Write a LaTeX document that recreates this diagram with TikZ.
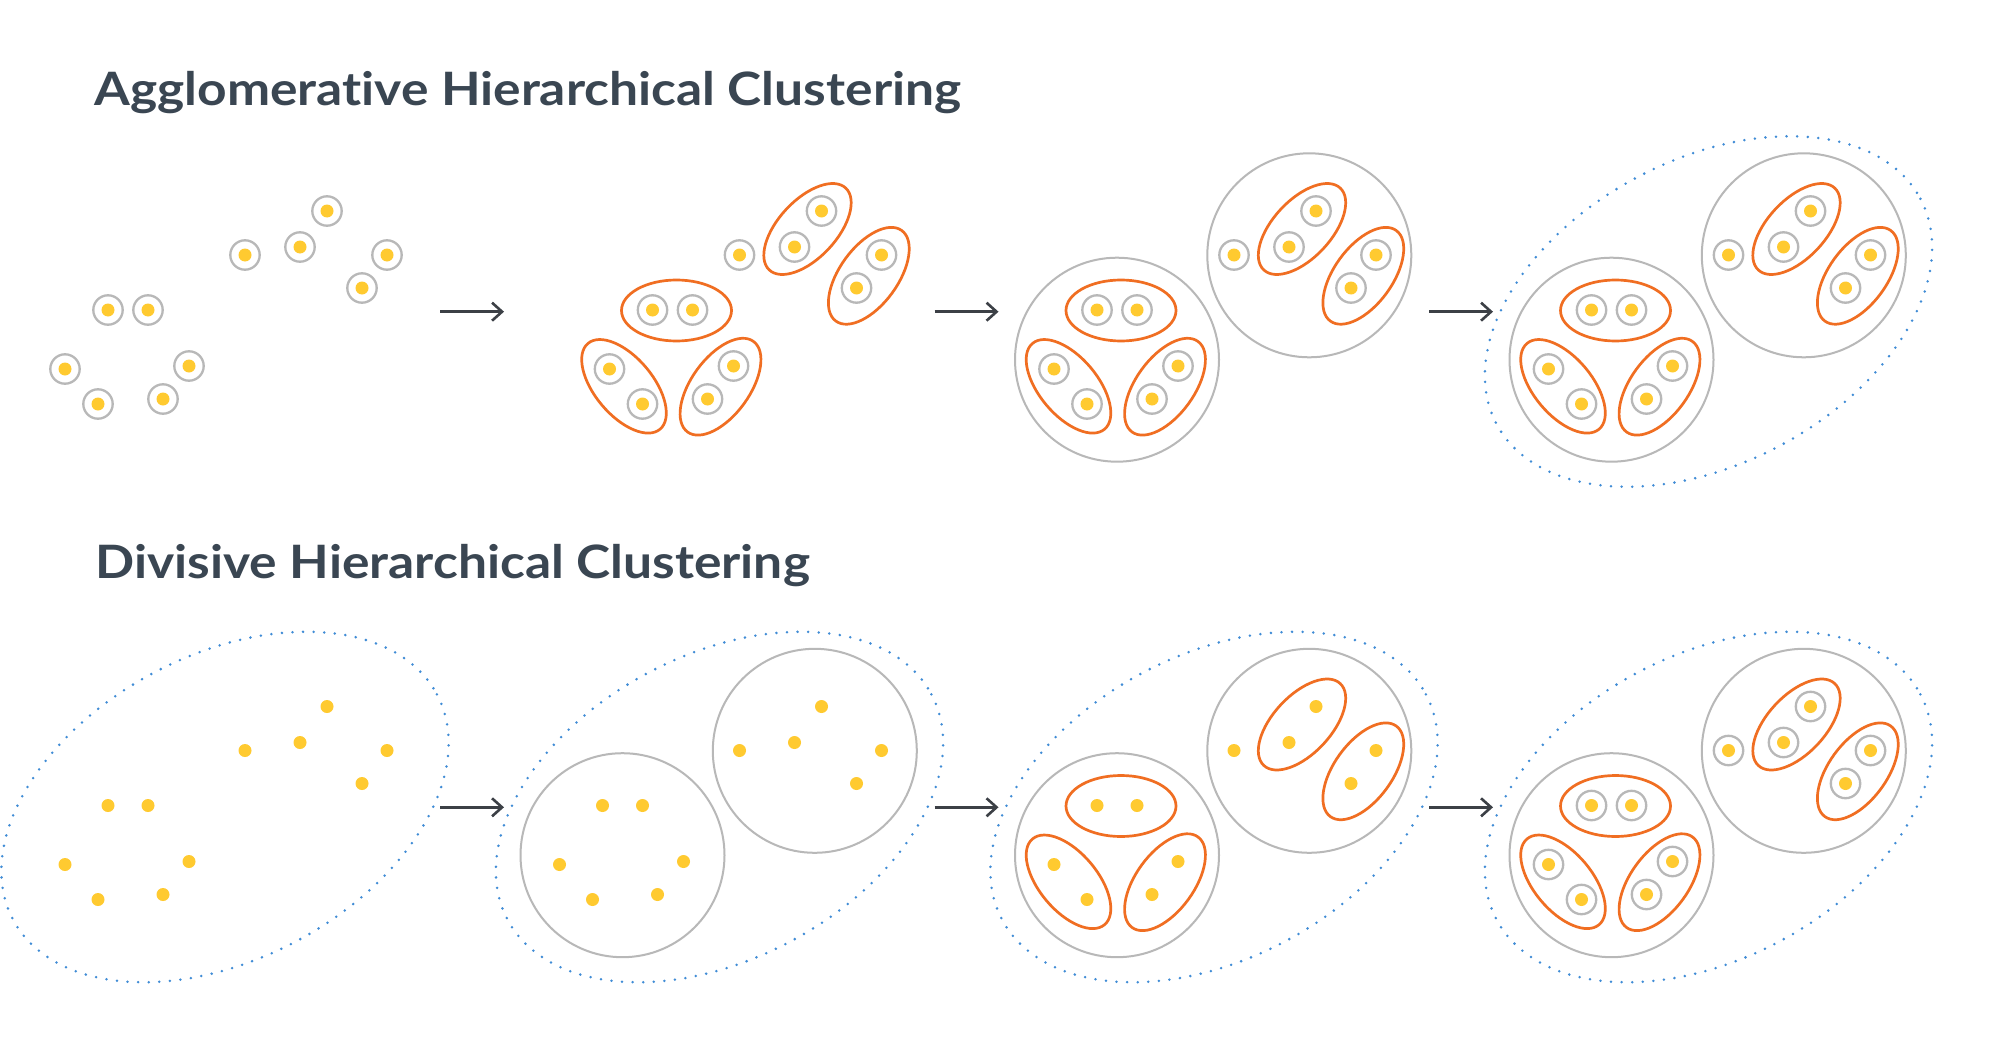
\documentclass[tikz,border=0pt]{standalone}
\usepackage{fontspec}
\setmainfont{Lato}
\newfontfamily\headfont{Lato}[FakeStretch=1.12,Ligatures=NoCommon]
\usetikzlibrary{arrows.meta}
\definecolor{dotyellow}{RGB}{255,202,48}
\definecolor{ringgrey}{RGB}{184,184,184}
\definecolor{pairorange}{RGB}{240,110,34}
\definecolor{dotblue}{RGB}{64,140,214}
\definecolor{arrowgrey}{RGB}{60,64,70}
\definecolor{titleslate}{RGB}{58,70,82}

\tikzset{
  yellowdot/.style={fill=dotyellow},
  singlering/.style={draw=ringgrey,line width=1.15pt},
  pairring/.style={draw=pairorange,line width=1.35pt},
  groupring/.style={draw=ringgrey,line width=1pt},
  allring/.style={draw=dotblue,line width=1.4pt,line cap=round,dash pattern=on 0pt off 5.3pt},
  steparrow/.style={draw=arrowgrey,line width=1.3pt,-{Straight Barb[length=5pt,width=9pt]}},
  heading/.style={anchor=base west,inner sep=0pt,text=titleslate,font=\headfont\fontsize{23}{27}\selectfont\bfseries},
}

% point positions of one panel, in pixels
\newcommand{\toppoints}{327/211,300/247,245/255,387/255,362/288}
\newcommand{\botpoints}{108/310,148/310,65/369,189/366,98/404,163/399}

% #1 = list, #2 = 1 for a ring round every point
\newcommand{\drawpoints}[2]{%
  \foreach \px/\py in #1 {
    \fill[yellowdot] (\px,\py) circle[radius=6.5];
    \ifnum#2=1\relax \draw[singlering] (\px,\py) circle[radius=14.7];\fi
  }}
\newcommand{\toppairs}{%
  \draw[pairring,shift={(313,229)},rotate=47] (0,0) ellipse[x radius=56,y radius=29];
  \draw[pairring,shift={(374.3,275.8)},rotate=54] (0,0) ellipse[x radius=56,y radius=29];}
\newcommand{\botpairs}{%
  \draw[pairring] (132,310.5) ellipse[x radius=55,y radius=30.5];
  \draw[pairring,shift={(79.5,386.3)},rotate=-50] (0,0) ellipse[x radius=56,y radius=29];
  \draw[pairring,shift={(176,386.7)},rotate=54] (0,0) ellipse[x radius=56,y radius=29];}
\newcommand{\groupcircles}{%
  \draw[groupring] (128,359.7) circle[radius=102];
  \draw[groupring] (320.3,255.3) circle[radius=102];}
\newcommand{\outerring}{%
  \draw[allring,shift={(225,311.5)},rotate=28] (0,0) ellipse[x radius=240,y radius=152];}

\begin{document}
\begin{tikzpicture}[x=0.5pt,y=-0.5pt]
\useasboundingbox[fill=white] (0,0) rectangle (2002,1054);

\node[heading] (aggtitle) at (94,105) {Agglomerative Hierarchical Clustering};
\node[heading] (divtitle) at (95,578) {Divisive Hierarchical Clustering};

% agglomerative
\begin{scope}
  \drawpoints{\toppoints}{1}
  \drawpoints{\botpoints}{1}
\end{scope}
\begin{scope}[shift={(494.5,0)}]
  \drawpoints{\toppoints}{1}
  \toppairs
  \begin{scope}[shift={(50,0)}]
    \drawpoints{\botpoints}{1}
    \botpairs
  \end{scope}
\end{scope}
\begin{scope}[shift={(989,0)}]
  \drawpoints{\toppoints}{1}
  \drawpoints{\botpoints}{1}
  \toppairs \botpairs
  \groupcircles
\end{scope}
\begin{scope}[shift={(1483.5,0)}]
  \drawpoints{\toppoints}{1}
  \drawpoints{\botpoints}{1}
  \toppairs \botpairs
  \groupcircles
  \outerring
\end{scope}

% divisive
\begin{scope}[shift={(0,495.5)}]
  \drawpoints{\toppoints}{0}
  \drawpoints{\botpoints}{0}
  \outerring
\end{scope}
\begin{scope}[shift={(494.5,495.5)}]
  \drawpoints{\toppoints}{0}
  \drawpoints{\botpoints}{0}
  \groupcircles
  \outerring
\end{scope}
\begin{scope}[shift={(989,495.5)}]
  \drawpoints{\toppoints}{0}
  \drawpoints{\botpoints}{0}
  \toppairs \botpairs
  \groupcircles
  \outerring
\end{scope}
\begin{scope}[shift={(1483.5,495.5)}]
  \drawpoints{\toppoints}{1}
  \drawpoints{\botpoints}{1}
  \toppairs \botpairs
  \groupcircles
  \outerring
\end{scope}

% arrows between the steps
\foreach \k in {0,1,2} {
  \coordinate (agg\k a) at (440+494.5*\k,311.7);
  \coordinate (agg\k b) at (504+494.5*\k,311.7);
  \draw[steparrow] (agg\k a) -- (agg\k b);
  \coordinate (div\k a) at (440+494.5*\k,807.3);
  \coordinate (div\k b) at (504+494.5*\k,807.3);
  \draw[steparrow] (div\k a) -- (div\k b);
}
\end{tikzpicture}
\end{document}
